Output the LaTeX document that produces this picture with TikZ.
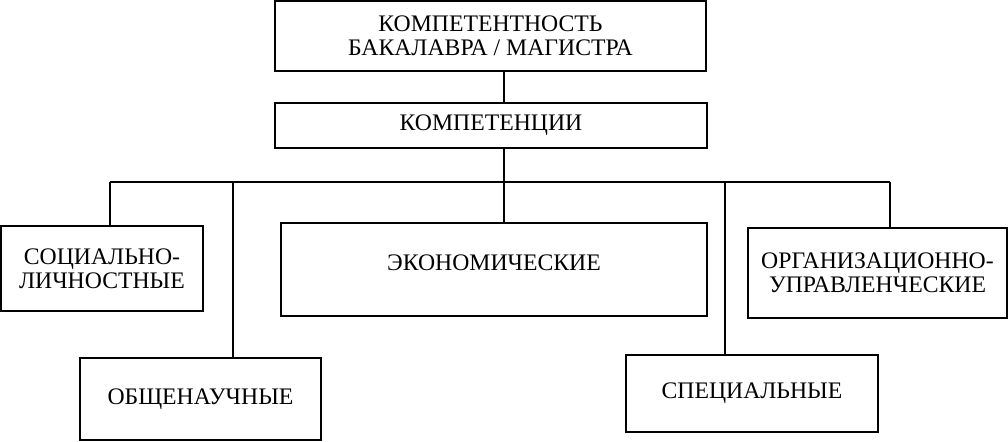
\documentclass[tikz,border=0pt]{standalone}
\usepackage{fontspec}
\setmainfont{Liberation Serif}
\begin{document}
\begin{tikzpicture}[x=0.02cm,y=-0.02cm,
	  box/.style={draw,line width=1pt,align=center,inner sep=0pt,
	    font=\fontsize{13.5}{13.5}\selectfont},
	  link/.style={line width=1pt}]
	  \useasboundingbox (0,0) rectangle (1008,442);
	  \node[box,minimum width=8.62cm,minimum height=1.4cm] (top) at (490.5,36) {КОМПЕТЕНТНОСТЬ\\БАКАЛАВРА / МАГИСТРА};
	  \node[box,minimum width=8.64cm,minimum height=0.9cm] (komp) at (491,125.5) {КОМПЕТЕНЦИИ};
	  \node[box,minimum width=4.04cm,minimum height=1.7cm] (soc) at (102,268.5) {СОЦИАЛЬНО-\\ЛИЧНОСТНЫЕ};
	  \node[box,minimum width=4.82cm,minimum height=1.64cm] (obsh) at (200.5,399) {ОБЩЕНАУЧНЫЕ};
	  \node[box,minimum width=8.52cm,minimum height=1.86cm] (econ) at (494,269.5) {\raisebox{0.26cm}{ЭКОНОМИЧЕСКИЕ}};
	  \node[box,minimum width=5.04cm,minimum height=1.54cm] (spec) at (752,393.5) {СПЕЦИАЛЬНЫЕ};
	  \node[box,minimum width=5.18cm,minimum height=1.8cm] (org) at (877.5,273) {ОРГАНИЗАЦИОННО-\\УПРАВЛЕНЧЕСКИЕ};
	  % bus
	  \coordinate (trunk) at (504,182);
	  \coordinate (busL) at (110,182);
	  \coordinate (busO) at (233,182);
	  \coordinate (busS) at (725,182);
	  \coordinate (busR) at (890,182);
	  \draw[link] (top.south -| trunk) -- (komp.north -| trunk);
	  \draw[link] (komp.south -| trunk) -- (econ.north -| trunk);
	  \draw[link] (busL) -- (busR);
	  \draw[link] (busL) -- (soc.north -| busL);
	  \draw[link] (busO) -- (obsh.north -| busO);
	  \draw[link] (busS) -- (spec.north -| busS);
	  \draw[link] (busR) -- (org.north -| busR);
	\end{tikzpicture}
\end{document}
